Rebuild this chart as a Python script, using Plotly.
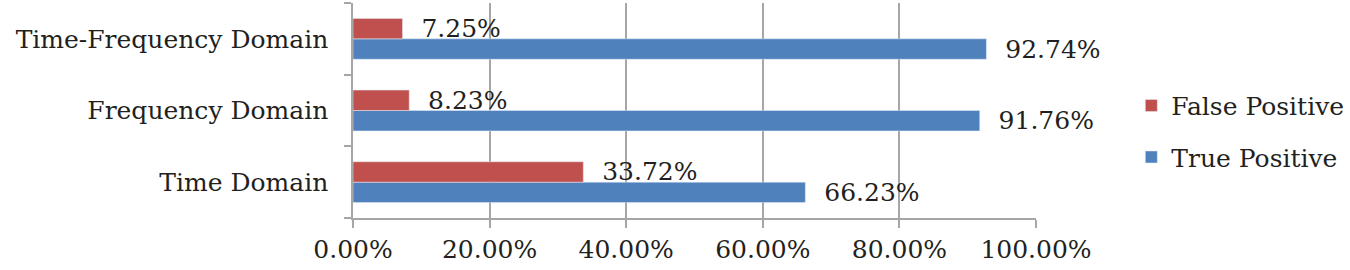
import plotly.graph_objects as go

categories = ["Time Domain", "Frequency Domain", "Time-Frequency Domain"]
true_positive = [66.23, 91.76, 92.74]
false_positive = [33.72, 8.23, 7.25]
x_ticks = [0, 20, 40, 60, 80, 100]
x_tick_labels = ["0.00%", "20.00%", "40.00%", "60.00%", "80.00%", "100.00%"]

FONT = "DejaVu Serif"
FS = 25
TXT = "#231f20"
PAD = "\u00a0\u00a0"

fig = go.Figure()
fig.add_trace(go.Bar(
    y=categories, x=true_positive, orientation="h", name="True Positive",
    marker=dict(color="#4F81BD"), legendgroup="tp", legendrank=2,
    text=[f"{PAD}{v:.2f}%" for v in true_positive], textposition="outside",
    constraintext="none", cliponaxis=False,
    textfont=dict(family=FONT, size=FS, color=TXT),
))
fig.add_trace(go.Bar(
    y=categories, x=false_positive, orientation="h", name="False Positive",
    marker=dict(color="#C0504D"), legendgroup="fp", legendrank=1,
    text=[f"{PAD}{v:.2f}%" for v in false_positive], textposition="outside",
    constraintext="none", cliponaxis=False,
    textfont=dict(family=FONT, size=FS, color=TXT),
))

fig.update_layout(
    width=1350, height=270,
    margin=dict(l=353, r=314, t=3, b=52),
    paper_bgcolor="white", plot_bgcolor="white",
    barmode="group", bargap=0.43, bargroupgap=0,
    font=dict(family=FONT, size=FS, color=TXT),
    showlegend=True,
    legend=dict(
        xref="container", yref="container",
        x=0.838, y=0.514, xanchor="left", yanchor="middle",
        traceorder="grouped", tracegroupgap=16,
        font=dict(family=FONT, size=FS, color=TXT),
        bgcolor="rgba(0,0,0,0)",
    ),
    xaxis=dict(
        range=[0, 100], tickvals=x_ticks, ticktext=x_tick_labels,
        showgrid=True, gridcolor="#A6A6A6", gridwidth=1.5,
        zeroline=False, showline=True, linecolor="#A6A6A6", linewidth=1.5,
        ticks="outside", ticklen=8, tickcolor="#A6A6A6", tickwidth=1.5,
        automargin=False, fixedrange=True,
    ),
    yaxis=dict(
        showgrid=False, zeroline=False, showline=True,
        linecolor="#A6A6A6", linewidth=1.5,
        ticks="outside", ticklen=7, tickcolor="#A6A6A6", tickwidth=1.5,
        tickson="boundaries", ticklabelstandoff=18, automargin=False,
    ),
)

fig.write_html("out.html", config={"displayModeBar": False},
               post_script="document.body.style.margin='0';")
